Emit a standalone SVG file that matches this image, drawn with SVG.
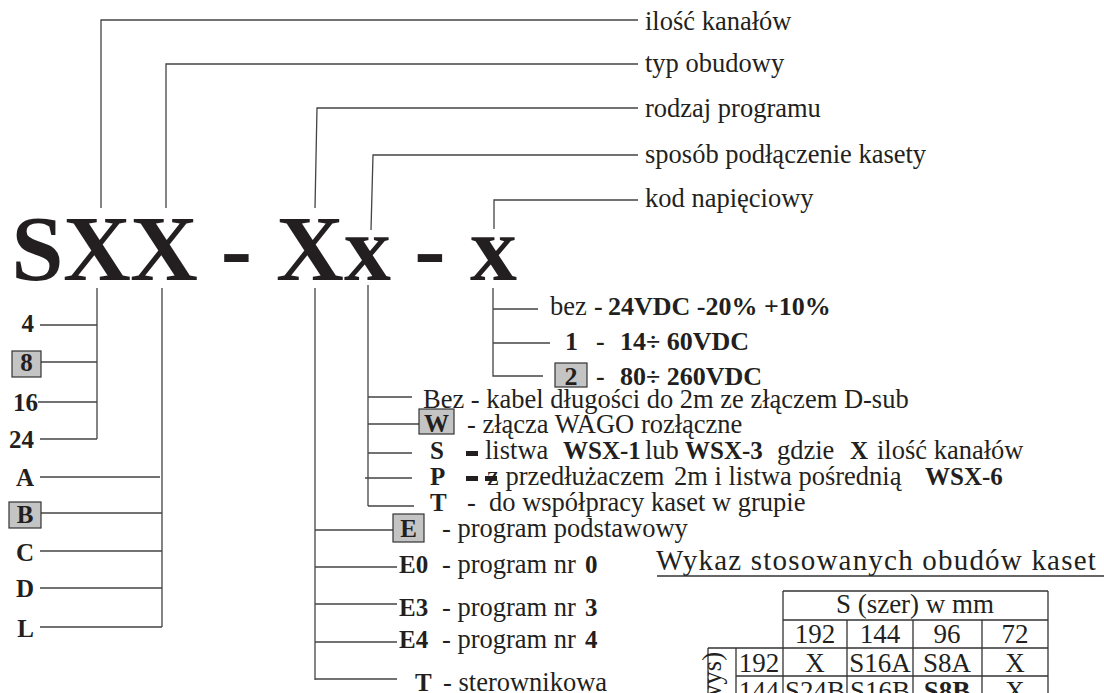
<svg xmlns="http://www.w3.org/2000/svg" width="1104" height="693" viewBox="0 0 1104 693">
<style>
.t{font-family:"Liberation Serif","Times New Roman",serif;fill:#231f20;font-size:26.5px}
.b{font-weight:bold;font-size:25px}
.v{font-weight:bold;font-size:26px}
.big{font-weight:bold;font-size:94px}
.tb{font-size:27px}
.ln{stroke:#444;stroke-width:1.3;fill:none}
.tl{stroke:#333;stroke-width:1.3;fill:none}
.box{fill:#c4c4c4;stroke:#333;stroke-width:1.2}
.dash{fill:#231f20}
</style>
<rect width="1104" height="693" fill="#fff"/>
<g id="connectors" class="ln">
  <path d="M101 208V20H638"/>
  <path d="M166 208V64H638"/>
  <path d="M315 208L317 108H638"/>
  <path d="M371 230L373 155H638"/>
  <path d="M494 229V200H638"/>
  <path d="M97 288V439M40 325H97M41 362H97M38 402H97M40 439H97"/>
  <path d="M162 288V627M40 477H160M41 513H162M40 551H162M40 588H162M40 627H162"/>
  <path d="M368 285V506M368 397H412M368 424H419M368 453H412M365 478H412M368 506H414"/>
  <path d="M315 288V680M315 530H393M315 567H397M315 604H397M315 642H397M315 679H397"/>
  <path d="M493 288V376H543M493 309H538M493 343H550"/>
</g>
<g id="code">
  <text class="t big" text-anchor="middle" x="37.5 97 164 236.5 310 367.5 430 493.5" y="280">SXX-Xx-x</text>
</g>
<g id="label-kanaly"><text class="t" x="645" y="30">ilość kanałów</text></g>
<g id="label-obudowa"><text class="t" x="645" y="72">typ obudowy</text></g>
<g id="label-program"><text class="t" x="645" y="117">rodzaj programu</text></g>
<g id="label-podlaczenie"><text class="t" x="645" y="163" fill="#333">sposób podłączenie kasety</text></g>
<g id="label-kod"><text class="t" x="645" y="207">kod napięciowy</text></g>
<g id="channels">
  <text class="t b" text-anchor="end" x="34" y="332">4</text>
  <rect class="box" x="12" y="351" width="29" height="26"/>
  <text class="t b" text-anchor="middle" x="26.5" y="371">8</text>
  <text class="t b" text-anchor="end" x="38" y="411">16</text>
  <text class="t b" text-anchor="end" x="34" y="448">24</text>
</g>
<g id="housings">
  <text class="t b" text-anchor="end" x="34" y="486">A</text>
  <rect class="box" x="9" y="502" width="32" height="26"/>
  <text class="t b" text-anchor="middle" x="25" y="523">B</text>
  <text class="t b" text-anchor="end" x="34" y="561">C</text>
  <text class="t b" text-anchor="end" x="34" y="597">D</text>
  <text class="t b" text-anchor="end" x="34" y="637">L</text>
</g>
<g id="voltage">
  <text class="t" x="550" y="315">bez<tspan class="v" x="594">-</tspan><tspan class="v" x="608">24VDC -20% +10%</tspan></text>
  <text class="t v" x="565" y="350">1<tspan x="596">-</tspan><tspan x="620">14÷ 60VDC</tspan></text>
  <rect class="box" x="555" y="363" width="32" height="24"/>
  <text class="t v" text-anchor="middle" x="571" y="385">2</text>
  <text class="t v" x="596" y="385">-<tspan x="620">80÷ 260VDC</tspan></text>
</g>
<g id="connection">
  <text class="t" x="423" y="408">Bez - kabel długości do 2m ze złączem D-sub</text>
  <rect class="box" x="419" y="409" width="35" height="25"/>
  <text class="t b" text-anchor="middle" x="436.5" y="432">W</text>
  <text class="t" x="467" y="433">- złącza WAGO rozłączne</text>
  <text class="t b" x="430" y="459">S</text>
  <rect class="dash" x="466" y="451" width="12" height="5"/>
  <text class="t" x="485" y="459">listwa<tspan class="b" x="563">WSX-1</tspan><tspan x="645">lub</tspan><tspan class="b" x="685">WSX-3</tspan><tspan x="777">gdzie</tspan><tspan class="b" x="850">X</tspan><tspan x="877">ilość kanałów</tspan></text>
  <text class="t b" x="430" y="485">P</text>
  <rect class="dash" x="466" y="476" width="12" height="5"/>
  <rect class="dash" x="485" y="476" width="12" height="5"/>
  <text class="t" x="487" y="485">z przedłużaczem<tspan x="674">2m i listwa pośrednią</tspan><tspan class="b" x="925">WSX-6</tspan></text>
  <text class="t b" x="430" y="511">T</text>
  <text class="t" x="467" y="511">-<tspan x="489">do współpracy kaset w grupie</tspan></text>
</g>
<g id="programs">
  <rect class="box" x="393" y="514" width="31" height="28"/>
  <text class="t b" text-anchor="middle" x="408.5" y="537">E</text>
  <text class="t" x="442" y="537">- program podstawowy</text>
  <text class="t b" x="399" y="573">E0</text>
  <text class="t" x="442" y="573">- program nr<tspan class="b" x="585">0</tspan></text>
  <text class="t b" x="399" y="616">E3</text>
  <text class="t" x="442" y="616">- program nr<tspan class="b" x="585">3</tspan></text>
  <text class="t b" x="399" y="648">E4</text>
  <text class="t" x="442" y="648">- program nr<tspan class="b" x="585">4</tspan></text>
  <text class="t b" x="415" y="691">T</text>
  <text class="t" x="443" y="691">- sterownikowa</text>
</g>
<g id="table">
  <text class="t" x="656" y="570" style="font-size:29px;letter-spacing:1.2px">Wykaz stosowanych obudów kaset</text>
  <path class="tl" d="M657 576H1104"/>
  <path class="tl" d="M783 591H1048M783 620H1048M708 648H1048M736 676H1048M783 591V693M1048 591V693M847 620V693M913 620V693M982 620V693M708 648V693M736 648V693"/>
  <g class="t tb" text-anchor="middle">
    <text x="915" y="613">S (szer) w mm</text>
    <text x="815" y="643">192</text><text x="880" y="643">144</text><text x="947" y="643">96</text><text x="1015" y="643">72</text>
    <text x="759" y="672">192</text><text x="815" y="672">X</text><text x="880" y="672">S16A</text><text x="947" y="672">S8A</text><text x="1015" y="672">X</text>
    <text x="759" y="700">144</text><text x="815" y="700">S24B</text><text x="880" y="700">S16B</text><text x="947" y="700" font-weight="bold">S8B</text><text x="1015" y="700">X</text>
  </g>
  <text class="t" text-anchor="end" transform="translate(721,652) rotate(-90)">(wys)</text>
</g>
</svg>
